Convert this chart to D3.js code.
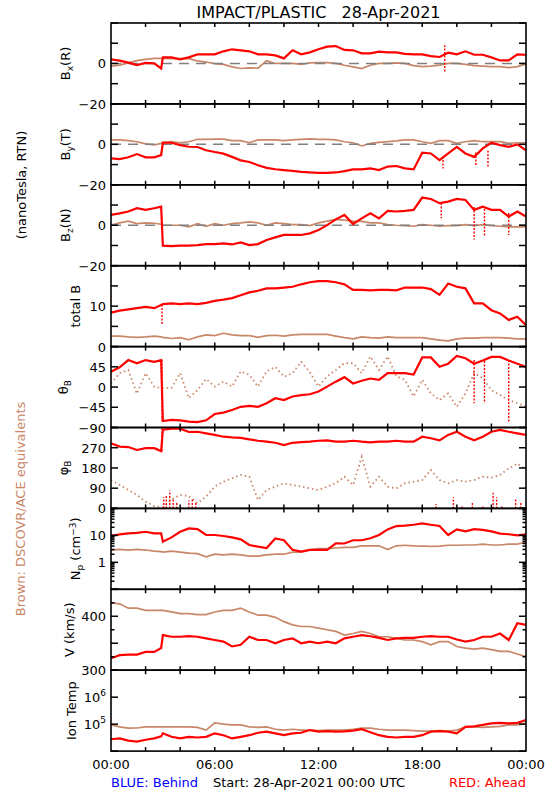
<!DOCTYPE html>
<html><head><meta charset="utf-8">
<script src="https://cdn.jsdelivr.net/npm/d3@7"></script>
<style>body{margin:0;background:#fff} text{font-family:"DejaVu Sans",sans-serif}</style>
</head><body><svg id="c" width="550" height="800"></svg>
<script>
// ---------------- DATA (hours since 28-Apr-2021 00:00 UTC) ----------------
const hours = [0,0.5,1,1.5,2,2.5,2.9,3,3.5,4,4.5,5,5.5,6,6.5,7,7.5,8,8.5,9,9.5,10,10.5,11,11.5,12,12.5,13,13.5,14,14.5,15,15.5,16,16.5,17,17.5,18,18.5,19,19.5,20,20.5,21,21.5,22,22.5,23,23.5,24];

// Ahead (red) and DSCOVR/ACE (brown) series
const bxAhead = [2,1.4,0.4,-0.8,0.3,0,-2.5,3,3,2,3,4.5,4.5,4.5,6,7,6.5,6,4.5,4.5,4,2.5,6.5,4.5,5.5,7,8.3,8.6,6.7,6.5,5,5,5.8,5.5,5.5,4.7,4.5,4.5,3.6,3.2,5.3,4.5,6,4.3,4.3,3,1.5,1.5,4.5,4.3];
const bxAce   = [-1.3,-0.8,0.3,1.4,2,2.5,2.5,2.5,2.4,2.4,2.4,1.3,0.7,-0.1,-0.5,-1.7,-2.5,-2.2,-2.3,1.3,0,0,0,-0.5,0.3,0.4,0.4,0,-0.9,-1.7,-2.5,-0.9,0,0,0.3,0,-1.1,-1.6,-1.3,-0.8,0,0,-0.5,-1.1,-1.3,-1.6,-1.6,-2.1,-1.6,-0.3];
const byAhead = [-6.9,-7.3,-6.4,-4.8,-6.4,-6.4,-5.3,0.8,0.8,-0.4,-1.2,-1.3,-2.9,-3.8,-4.6,-6.2,-7.9,-8.7,-10.3,-11.6,-12.3,-12.7,-13.1,-13.6,-13.9,-14.1,-14.1,-13.9,-13.2,-12.4,-12.4,-11.9,-12.7,-11,-10.7,-11.9,-12.4,-4.1,-4.5,-7.8,-4.5,-1.2,-4.5,-6.2,-2,0.8,-0.4,-1.2,0,-2.9];
const byAce   = [2.2,2.2,1.8,1.3,0.2,-0.3,0.5,1,1.3,0.8,1.3,2.5,2.5,2.6,2.6,1.8,1.8,0.8,2.2,2.2,2.2,1.8,2.2,2.5,2.7,2.5,2.5,2.2,1.3,0.8,-0.8,0.5,1,1.3,1.7,2.2,2.2,1.3,0.5,1.8,1.8,0.5,1.3,1.8,1.3,1.3,1.3,0.5,0.8,0.8];
const bzAhead = [5.1,5.9,6.8,8.4,7.6,8.4,9.2,-10.1,-10.3,-10.1,-10.1,-9.8,-9.3,-9.3,-9,-9.5,-8.5,-9.8,-9.3,-7.3,-6,-4.8,-4.8,-4.8,-4,-2.4,0.1,2.9,5.1,0.6,3.4,5.9,3.4,7.1,6.8,7.1,7.6,13.7,13,10.9,11.7,13,12.5,7.6,9.2,7.6,7.6,4.3,6.8,4.3];
const bzAce   = [0,1.2,2,0.8,1.2,1,0.5,0,0,0,-0.8,0.8,-0.5,0.8,0,0.8,1.2,1.7,1.2,0,1.2,0.8,0.3,0.3,-0.2,1.2,2,2.9,2.5,2,1.9,1.2,1.2,0.3,0,-0.2,-0.5,0.3,0,-0.5,-0.2,-0.2,0.3,-0.2,0.3,-0.2,-0.5,-0.8,-0.8,-0.8];
const btAhead = [8.4,8.9,9.2,9.5,9.8,9.5,10.3,10.5,10.7,10.5,10.7,10.5,10.8,11.3,11.6,12,12.7,13.4,13.8,14.4,14.4,14.6,14.8,15.4,15.9,16.2,16.2,15.9,15.4,14,14,13.9,14,14,13.9,14.6,14.6,14.6,14.2,12.8,15.6,14.8,14.4,10.7,10.7,9,8.2,6.6,7.4,5.3];
const btAce   = [2.6,2.6,2.4,2.3,2.4,2.6,2.4,2.3,2,2.2,1.7,2.4,2.9,2.7,3.3,2.9,2.7,2.7,2.3,2.7,2.8,2.6,2.9,3,3,3,3,2.6,2.2,1.9,2.4,2.2,2.1,2.4,2.2,2.2,2.2,2.2,1.9,1.6,1.4,1.9,2.1,2.1,2.2,2.2,2.2,2.1,1.9,1.9];
const thAhead = [34,44,60,53,60,56,60,-75.5,-73,-74,-77,-78,-74,-60,-57,-51,-44,-42,-44,-36,-25,-29,-21,-18,-16,-10,1,12,22,8,14,19,16,31,31,31,28,66,66,45,52,69,64,52,59,67,67,59,52,45];
const thAce   = [8,31,38,-15,31,1,-2,-2,-2,31,-25,-7,18,1,12,1,35,27,1,35,45,23,31,56,33,1,24,38,53,53,31,68,38,68,24,16,-21,16,-14,-29,-14,-44,-14,31,20,-7,-18,-29,-36,-44];
const phAhead = [290,275,273,260,268,268,255,350,355,355,340,341,334,327,319,316,314,307,301,297,292,282,292,295,297,301,303,297,297,301,297,294,297,297,301,297,297,319,312,303,327,341,319,303,319,341,349,341,334,327];
const phAce   = [126,104,82,60,30,10,5,5,40,60,55,23,52,97,119,134,149,141,37,82,97,112,104,97,89,82,97,112,141,104,230,97,141,97,89,112,119,126,171,126,112,126,119,126,141,137,149,178,200,171];
const npAhead = [9.5,10.9,11.9,12.4,13.6,11.9,11.9,5.8,8.4,13.6,18.2,17,10.3,10.3,9.5,8.4,7.1,4.4,3.8,3.4,7.7,6.6,2.9,2.5,2.9,2.9,2.9,5.1,5,6.6,6.6,7.8,10.3,16.7,22.2,23,24.7,28,24.7,22.2,10.3,16.7,14,17,16,14,11.6,11,10,11];
const npAce   = [2.86,3,2.86,3,2.86,2.6,2.5,2.4,2.6,2.4,2.2,2.1,1.6,2,1.9,2,1.9,1.7,1.7,1.9,2,2,2.4,2.4,2.9,3.2,3.2,3.4,3.6,3.6,4.1,4.1,4.1,3,4.1,4.3,4.1,4,3.9,4,4.3,4.3,4.4,4.4,4.7,4.4,4.4,4.7,4.7,5.8];
const vAhead  = [322,328,329,329,334,334,341,365,362,362,363,362,359,356,353,344,347,362,356,356,350,356,359,350,353,350,353,350,359,362,365,363,360,356,359,360,360,362,363,362,362,357,353,356,362,362,368,356,387,384];
const vAce    = [425,423,415,415,411,411,411,411,408,405,405,403,403,408,411,411,415,408,402,402,398,390,384,381,381,378,375,372,365,368,372,368,362,362,359,356,356,353,347,353,353,344,341,339,341,338,335,335,330,325];
const tAhead  = [27500,29500,24500,22400,26300,29500,35000,45700,33900,29500,33900,32000,33900,45700,38900,29500,33900,38900,47900,52500,45700,38900,45700,47900,60300,52500,55000,52500,54000,57500,64600,50100,38900,33900,32000,33900,33900,38900,52500,55000,52500,45700,79400,83000,93300,107000,112000,107000,112000,141000];
const tAce    = [93300,79400,70800,72000,79400,79400,79400,79400,79400,79400,79400,76000,60300,112000,100000,93300,93300,79400,76000,79400,64600,60300,64600,60300,60300,57500,60300,60300,60300,64600,70800,70800,64600,60300,60300,60300,57500,55000,55000,57500,55000,60300,79400,79400,76000,79400,83000,93300,93300,107000];

// short red excursions: [hour, from, to]
const bxSpikes = [[19.3,-4,9]];
const bySpikes = [[19.2,-6,-12],[21.1,-4,-11],[21.8,-3,-11.7]];
const bzSpikes = [[19.1,11,3.4],[21.0,9,-7],[21.6,8,-5.6],[23.0,6,-4.8]];
const btSpikes = [[2.95,10.4,5.3]];
const thSpikes = [[2.95,60,-75],[21.0,60,-36],[21.6,58,-36],[23.0,60,-80]];
const phSpikes = [[2.95,255,360],[3.05,0,50],[3.2,0,60],[3.4,0,80],[3.6,0,40],[3.8,0,30],[4.5,0,35],[4.7,0,40],[4.9,0,25],
                  [18.8,0,20],[19.8,0,50],[20.3,0,8],[20.9,0,25],[21.5,0,10],[22.1,0,70],[22.3,0,50],[22.6,0,15],[23.4,0,40],[23.7,0,25]];

const timeTicks = [0,6,12,18,24];
const timeTickLabels = ["00:00","06:00","12:00","18:00","00:00"];
const title = "IMPACT/PLASTIC\u00a0\u00a0\u00a028-Apr-2021";

// ---------------- LAYOUT ----------------
const RED = "#ff0000", BROWN = "#c98769", GRAY = "#808080";
const X0 = 111, X1 = 526, TOP = 23, PH = 80.9;
const svg = d3.select("#c");
const x = d3.scaleLinear().domain([0,24]).range([X0,X1]);

const minus = v => (v < 0 ? "\u2212" + Math.abs(v) : String(v));
const panels = [
  {a:bxAhead, b:bxAce, sp:bxSpikes, dom:[-20,20], ticks:[-20,-10,0,10,20], labels:[0,-20], zero:true, lab:[["B"],["x","sub"],["(R)"]], lx:70},
  {a:byAhead, b:byAce, sp:bySpikes, dom:[-20,20], ticks:[-20,-10,0,10,20], labels:[0,-20], zero:true, lab:[["B"],["y","sub"],["(T)"]], lx:70},
  {a:bzAhead, b:bzAce, sp:bzSpikes, dom:[-20,20], ticks:[-20,-10,0,10,20], labels:[0,-20], zero:true, lab:[["B"],["z","sub"],["(N)"]], lx:70},
  {a:btAhead, b:btAce, sp:btSpikes, dom:[0,20], ticks:[0,5,10,15,20], labels:[10,0], lab:[["total B"]], lx:80},
  {a:thAhead, b:thAce, sp:thSpikes, dom:[-90,90], ticks:[-90,-45,0,45,90], labels:[45,0,-45,-90], lab:[["\u03b8"],["B","sub"]], lx:68, dotted:true},
  {a:phAhead, b:phAce, sp:phSpikes, dom:[0,360], ticks:[0,90,180,270,360], labels:[270,180,90,0], lab:[["\u03c6"],["B","sub"]], lx:68, dotted:true, wrap:true},
  {a:npAhead, b:npAce, dom:[0.1,100], log:true, ticks:[0.1,1,10,100], labels:[10,1], lab:[["N"],["p","sub"],[" (cm"],["\u22123","sup"],[")"]], lx:80},
  {a:vAhead, b:vAce, dom:[300,450], ticks:[300,350,400,450], minor:[325,375,425], labels:[400,300], lab:[["V (km/s)"]], lx:74},
  {a:tAhead, b:tAce, dom:[1e4,1e7], log:true, nominor:true, ticks:[1e4,1e5,1e6,1e7], labels:[1e6,1e5], exp:true, lab:[["Ion Temp"]], lx:76}
];

const defs = svg.append("defs");

panels.forEach((p, i) => {
  const top = TOP + i*PH, bot = top + PH;
  const y = (p.log ? d3.scaleLog() : d3.scaleLinear()).domain(p.dom).range([bot, top]);
  const g = svg.append("g");
  const cid = "clip" + i;
  defs.append("clipPath").attr("id", cid).append("rect").attr("x", X0).attr("y", top).attr("width", X1-X0).attr("height", PH);
  const data = g.append("g").attr("clip-path", `url(#${cid})`);

  const mk = arr => hours.map((h, k) => [h, arr[k]]);
  const line = d3.line().x(d => x(d[0])).y(d => y(d[1])).defined(d => d[1] != null);
  const brk = arr => { // break line where phi wraps
    const out = [];
    arr.forEach((d, k) => { if (k && Math.abs(d[1]-arr[k-1][1]) > 180) out.push([d[0], null]); out.push(d); });
    return out;
  };
  let bData = mk(p.b), aData = mk(p.a);
  if (p.wrap) { bData = brk(bData); aData = brk(aData); }

  data.append("path").attr("d", line(bData)).attr("fill", "none").attr("stroke", BROWN)
    .attr("stroke-width", p.dotted ? 1.8 : 1.7).attr("stroke-dasharray", p.dotted ? "1.5,3" : null);
  if (p.zero) data.append("line").attr("x1", X0).attr("x2", X1).attr("y1", y(0)).attr("y2", y(0))
      .attr("stroke", GRAY).attr("stroke-width", 1.5).attr("stroke-dasharray", "10,7");
  data.append("path").attr("d", line(aData)).attr("fill", "none").attr("stroke", RED).attr("stroke-width", 2.2);
  (p.sp || []).forEach(s => data.append("line").attr("x1", x(s[0])).attr("x2", x(s[0]))
      .attr("y1", y(s[1])).attr("y2", y(s[2])).attr("stroke", RED).attr("stroke-width", 1.4).attr("stroke-dasharray", "2,1.5"));

  // frame
  g.append("rect").attr("x", X0).attr("y", top).attr("width", X1-X0).attr("height", PH)
    .attr("fill", "none").attr("stroke", "#000").attr("stroke-width", 1.6);
  // x ticks (every 2 h) top & bottom
  d3.range(2, 24, 2).forEach(h => {
    g.append("line").attr("x1", x(h)).attr("x2", x(h)).attr("y1", top).attr("y2", top+4).attr("stroke", "#000").attr("stroke-width", 1.5);
    g.append("line").attr("x1", x(h)).attr("x2", x(h)).attr("y1", bot).attr("y2", bot-4).attr("stroke", "#000").attr("stroke-width", 1.5);
  });
  // y ticks
  const yt = (v, len) => {
    g.append("line").attr("x1", X0).attr("x2", X0+len).attr("y1", y(v)).attr("y2", y(v)).attr("stroke", "#000").attr("stroke-width", 1.5);
    g.append("line").attr("x1", X1).attr("x2", X1-len).attr("y1", y(v)).attr("y2", y(v)).attr("stroke", "#000").attr("stroke-width", 1.5);
  };
  p.ticks.forEach(v => yt(v, 7));
  (p.minor || []).forEach(v => yt(v, 3.5));
  if (p.log && !p.nominor) {
    p.ticks.slice(0, -1).forEach(d => d3.range(2, 10).forEach(m => yt(d*m, 3.5)));
  }
  // tick labels
  p.labels.forEach(v => {
    const t = g.append("text").attr("x", 106).attr("y", y(v) + 5).attr("text-anchor", "end").attr("font-size", 13);
    if (p.exp) {
      t.append("tspan").text("10");
      t.append("tspan").attr("dy", -6).attr("font-size", 9).text(Math.round(Math.log10(v)));
    } else t.text(p.log ? String(v) : minus(v));
  });
  // axis title
  const lt = svg.append("text").attr("transform", `translate(${p.lx},${(top+bot)/2}) rotate(-90)`)
    .attr("text-anchor", "middle").attr("font-size", 13);
  p.lab.forEach(part => {
    const ts = lt.append("tspan").text(part[0]);
    if (part[1] === "sub") ts.attr("baseline-shift", "-30%").attr("font-size", 9);
    if (part[1] === "sup") ts.attr("baseline-shift", "45%").attr("font-size", 9);
  });
});

// title
svg.append("text").attr("x", (X0+X1)/2).attr("y", 18).attr("text-anchor", "middle").attr("font-size", 16).text(title);

// time axis labels
const xb = TOP + 9*PH;
timeTicks.forEach((h, k) => svg.append("text").attr("x", x(h)).attr("y", xb + 18).attr("text-anchor", "middle")
  .attr("font-size", 13).text(timeTickLabels[k]));

svg.append("text").attr("x", 111).attr("y", 787).attr("font-size", 13).attr("fill", "#0000ff").text("BLUE: Behind");
svg.append("text").attr("x", 213).attr("y", 787).attr("font-size", 13).attr("fill", "#000").text("Start: 28-Apr-2021 00:00 UTC");
svg.append("text").attr("x", 526).attr("y", 787).attr("text-anchor", "end").attr("font-size", 13).attr("fill", RED).text("RED: Ahead");

// side labels
svg.append("text").attr("transform", "translate(26,185) rotate(-90)").attr("text-anchor", "middle").attr("font-size", 13).text("(nanoTesla, RTN)");
svg.append("text").attr("transform", "translate(25,509) rotate(-90)").attr("text-anchor", "middle").attr("font-size", 13)
  .attr("fill", BROWN).text("Brown: DSCOVR/ACE equivalents");
</script></body></html>
